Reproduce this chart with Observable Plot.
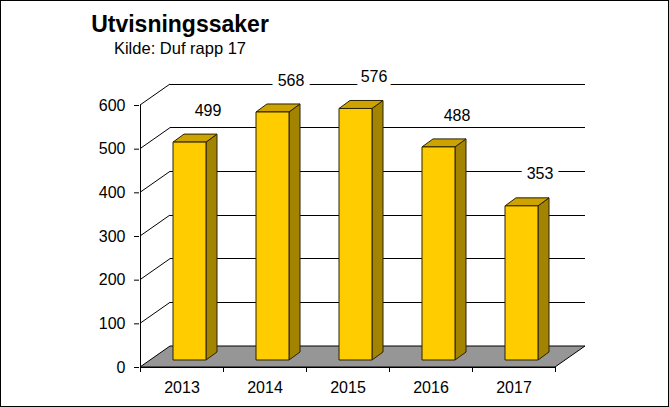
<!DOCTYPE html>
<html>
<head>
<meta charset="utf-8">
<script src="https://cdn.jsdelivr.net/npm/d3@7"></script>
<script src="https://cdn.jsdelivr.net/npm/@observablehq/plot@0.6"></script>
<style>
  html, body { margin: 0; padding: 0; background: #fff; }
  #wrap { position: relative; width: 669px; height: 407px; overflow: hidden; font-family: "Liberation Sans", Arial, sans-serif; }
  #border { position: absolute; left: 0; top: 0; width: 669px; height: 407px; box-sizing: border-box; border: 1px solid #000; pointer-events: none; }
  #title { position: absolute; left: 0; width: 360px; top: 11px; text-align: center; font-weight: bold; font-size: 23px; color: #000; }
  #subtitle { position: absolute; left: 0; width: 360px; top: 39px; text-align: center; font-size: 16.5px; color: #000; }
  svg { display: block; }
</style>
</head>
<body>
<div id="wrap">
  <div id="chart"></div>
  <div id="title">Utvisningssaker</div>
  <div id="subtitle">Kilde: Duf rapp 17</div>
  <div id="border"></div>
</div>
<script>
const years = ["2013", "2014", "2015", "2016", "2017"];
const cases = [499, 568, 576, 488, 353];
const yTicks = [0, 100, 200, 300, 400, 500, 600];

const data = years.map((year, i) => ({year, value: cases[i]}));

const DEPTH_X = 30, DEPTH_Y = -21;       // floor/wall depth
const BAR_OFF_X = 8, BAR_OFF_Y = -7;     // bar front face inset
const BAR_SIDE_X = 11, BAR_SIDE_Y = -8;  // bar thickness
const BAR_HALF = 16.5;

function poly(g, pts, fill, stroke) {
  g.append("polygon")
    .attr("points", pts.map(p => p.join(",")).join(" "))
    .attr("fill", fill)
    .attr("stroke", stroke)
    .attr("stroke-width", 1)
    .attr("stroke-linejoin", "miter");
}

function hline(g, xa, xb, yy) {
  g.append("line").attr("x1", xa).attr("y1", yy).attr("x2", xb).attr("y2", yy)
    .attr("stroke", "#000").attr("shape-rendering", "crispEdges");
}

function walls(index, scales) {
  const x = scales.x, y = scales.y;
  const bw = x.bandwidth();
  const x0 = x(years[0]), x1 = x(years[years.length - 1]) + bw;
  const g = d3.create("svg:g");
  for (const t of yTicks) {
    if (t === 0) continue;
    const yy = y(t);
    g.append("line").attr("x1", x0).attr("y1", yy).attr("x2", x0 + DEPTH_X).attr("y2", yy + DEPTH_Y)
      .attr("stroke", "#000");
    hline(g, x0 + DEPTH_X, x1 + DEPTH_X, yy + DEPTH_Y);
  }
  const y0 = y(0);
  poly(g, [[x0, y0], [x1, y0], [x1 + DEPTH_X, y0 + DEPTH_Y], [x0 + DEPTH_X, y0 + DEPTH_Y]], "#969696", "#000");
  // front axes
  g.append("line").attr("x1", x0).attr("y1", y(yTicks[yTicks.length - 1])).attr("x2", x0).attr("y2", y0)
    .attr("stroke", "#000").attr("shape-rendering", "crispEdges");
  hline(g, x0, x1, y0);
  const edges = years.map(d => x(d)).concat([x1]);
  for (const e of edges) {
    g.append("line").attr("x1", e).attr("y1", y0).attr("x2", e).attr("y2", y0 + 5)
      .attr("stroke", "#000").attr("shape-rendering", "crispEdges");
  }
  return g.node();
}

function bars(index, scales) {
  const x = scales.x, y = scales.y;
  const bw = x.bandwidth();
  const g = d3.create("svg:g");
  const yb = y(0) + BAR_OFF_Y;
  data.forEach(d => {
    const cx = x(d.year) + bw / 2 + BAR_OFF_X;
    const l = cx - BAR_HALF, r = cx + BAR_HALF;
    const yt = y(d.value) + BAR_OFF_Y;
    poly(g, [[r, yb], [r + BAR_SIDE_X, yb + BAR_SIDE_Y], [r + BAR_SIDE_X, yt + BAR_SIDE_Y], [r, yt]], "#A38400", "#2b2200");
    poly(g, [[l, yt], [r, yt], [r + BAR_SIDE_X, yt + BAR_SIDE_Y], [l + BAR_SIDE_X, yt + BAR_SIDE_Y]], "#CCA300", "#2b2200");
    poly(g, [[l, yt], [r, yt], [r, yb], [l, yb]], "#FFCC00", "#2b2200");
  });
  return g.node();
}

const chart = Plot.plot({
  width: 669,
  height: 407,
  marginLeft: 139,
  marginRight: 114,
  marginTop: 105,
  marginBottom: 40,
  style: {fontFamily: "'Liberation Sans', Arial, sans-serif", fontSize: "16px", color: "#000", background: "transparent"},
  x: {type: "band", domain: years, padding: 0, label: null},
  y: {domain: [0, 600], label: null},
  marks: [
    walls,
    bars,
    Plot.text(data, {
      x: "year", y: "value", text: d => String(d.value),
      dx: 26, dy: -39, fontSize: 16, fill: "#000",
      stroke: "white", strokeWidth: 12, paintOrder: "stroke",
      textAnchor: "middle", lineAnchor: "middle"
    }),
    Plot.axisY({ticks: yTicks, tickSize: 5, tickPadding: 9, fontSize: 16, label: null, tickFormat: d => String(d)}),
    Plot.axisX({tickSize: 0, tickPadding: 14, fontSize: 16, label: null})
  ]
});
document.getElementById("chart").appendChild(chart);
</script>
</body>
</html>
